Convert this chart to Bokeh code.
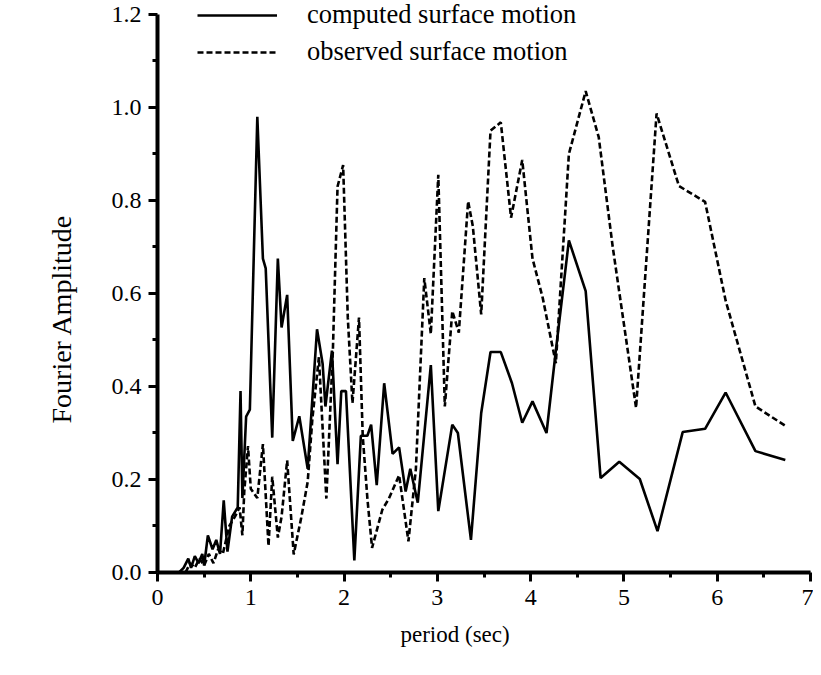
from bokeh.plotting import figure
from bokeh.models import Range1d, FixedTicker, PrintfTickFormatter, Legend, LegendItem, Title, Span
from bokeh.embed import file_html
from bokeh.resources import INLINE

# computed surface motion (solid)
computed_period = [0.23, 0.28, 0.33, 0.36, 0.40, 0.44, 0.48, 0.50, 0.54, 0.59, 0.63, 0.67,
                   0.71, 0.75, 0.80, 0.86, 0.89, 0.91, 0.95, 0.99, 1.07, 1.13, 1.16, 1.23,
                   1.29, 1.33, 1.39, 1.45, 1.52, 1.61, 1.71, 1.77, 1.80, 1.87, 1.93, 1.97,
                   2.02, 2.11, 2.18, 2.25, 2.29, 2.35, 2.43, 2.52, 2.59, 2.66, 2.71, 2.79,
                   2.93, 3.01, 3.16, 3.22, 3.36, 3.47, 3.57, 3.68, 3.80, 3.91, 4.02, 4.17,
                   4.27, 4.41, 4.59, 4.75, 4.95, 5.17, 5.36, 5.63, 5.87, 6.09, 6.41, 6.73]
computed_amp = [0.00, 0.01, 0.03, 0.01, 0.035, 0.02, 0.04, 0.015, 0.08, 0.05, 0.07, 0.04,
                0.155, 0.045, 0.12, 0.14, 0.39, 0.16, 0.335, 0.35, 0.98, 0.675, 0.654, 0.29,
                0.675, 0.527, 0.597, 0.283, 0.336, 0.223, 0.523, 0.449, 0.357, 0.477, 0.233, 0.39,
                0.39, 0.026, 0.294, 0.294, 0.318, 0.188, 0.407, 0.255, 0.269, 0.174, 0.223, 0.15,
                0.446, 0.132, 0.318, 0.30, 0.07, 0.343, 0.474, 0.474, 0.407, 0.322, 0.368, 0.30,
                0.477, 0.714, 0.605, 0.203, 0.238, 0.201, 0.089, 0.302, 0.309, 0.387, 0.261, 0.242]

# observed surface motion (dashed)
observed_period = [0.30, 0.35, 0.40, 0.45, 0.50, 0.55, 0.60, 0.65, 0.70, 0.77, 0.83, 0.88,
                   0.91, 0.93, 0.97, 1.00, 1.07, 1.13, 1.19, 1.23, 1.29, 1.33, 1.39, 1.46,
                   1.54, 1.61, 1.66, 1.73, 1.81, 1.88, 1.93, 1.99, 2.04, 2.09, 2.16, 2.20,
                   2.25, 2.30, 2.41, 2.48, 2.59, 2.69, 2.77, 2.86, 2.93, 3.01, 3.08, 3.16,
                   3.23, 3.33, 3.38, 3.47, 3.57, 3.68, 3.79, 3.91, 4.02, 4.13, 4.27, 4.41,
                   4.59, 4.73, 4.88, 5.13, 5.35, 5.59, 5.87, 6.09, 6.41, 6.75]
observed_amp = [0.00, 0.02, 0.01, 0.03, 0.015, 0.04, 0.02, 0.05, 0.04, 0.10, 0.12, 0.14,
                0.08, 0.174, 0.272, 0.18, 0.16, 0.276, 0.057, 0.206, 0.075, 0.12, 0.241, 0.039,
                0.117, 0.195, 0.33, 0.463, 0.159, 0.477, 0.83, 0.876, 0.548, 0.364, 0.548, 0.294,
                0.159, 0.053, 0.135, 0.159, 0.209, 0.067, 0.223, 0.633, 0.513, 0.855, 0.357, 0.562,
                0.516, 0.798, 0.745, 0.555, 0.95, 0.968, 0.763, 0.887, 0.675, 0.59, 0.45, 0.90,
                1.035, 0.936, 0.70, 0.354, 0.987, 0.831, 0.797, 0.585, 0.357, 0.313]

x_ticks = [0, 1, 2, 3, 4, 5, 6, 7]
x_minor = [0.5, 1.5, 2.5, 3.5, 4.5, 5.5, 6.5]
y_ticks = [0.0, 0.2, 0.4, 0.6, 0.8, 1.0, 1.2]
y_minor = [0.1, 0.3, 0.5, 0.7, 0.9, 1.1]

FONT = "Liberation Serif"

p = figure(width=813, height=667, output_backend="svg", toolbar_location=None,
           x_range=Range1d(0, 7), y_range=Range1d(0, 1.23),
           min_border_left=157, min_border_right=3, min_border_top=0, min_border_bottom=95)
p.outline_line_color = None
p.xgrid.visible = False
p.ygrid.visible = False
p.background_fill_color = "white"
p.border_fill_color = "white"

r1 = p.line(computed_period, computed_amp, line_color="black", line_width=2.6)
r2 = p.line(observed_period, observed_amp, line_color="black", line_width=2.6, line_dash="6 3")

# heavy baseline along the x axis (y = 0)
p.add_layout(Span(location=0, dimension="width", line_color="black", line_width=3))

p.yaxis.bounds = (0, 1.2)
for ax in p.xaxis + p.yaxis:
    ax.axis_line_width = 4
    ax.axis_line_color = "black"
    ax.major_tick_line_width = 3
    ax.major_tick_line_color = "black"
    ax.minor_tick_line_width = 3
    ax.minor_tick_line_color = "black"
    ax.major_tick_out = 9
    ax.major_tick_in = 0
    ax.minor_tick_out = 5
    ax.minor_tick_in = 0
    ax.major_label_text_font = FONT
    ax.major_label_text_font_size = "24px"
    ax.major_label_text_color = "black"

p.xaxis.ticker = FixedTicker(ticks=x_ticks, minor_ticks=x_minor)
p.yaxis.ticker = FixedTicker(ticks=y_ticks, minor_ticks=y_minor)
p.xaxis.formatter = PrintfTickFormatter(format="%d")
p.yaxis.formatter = PrintfTickFormatter(format="%.1f")
p.xaxis.major_label_standoff = 8
p.yaxis.major_label_standoff = 7

# axis titles as side titles (left-aligned with an offset along the axis)
xtitle = Title(text="period (sec)", align="left", offset=243, standoff=24,
               text_font=FONT, text_font_size="23px", text_font_style="normal",
               text_color="black")
ytitle = Title(text="Fourier Amplitude", align="left", offset=149, standoff=63,
               text_font=FONT, text_font_size="28px", text_font_style="normal",
               text_color="black")
p.add_layout(xtitle, "below")
p.add_layout(ytitle, "left")

legend = Legend(items=[LegendItem(label="computed surface motion", renderers=[r1]),
                       LegendItem(label="observed surface motion", renderers=[r2])],
                location=(40, 505), orientation="vertical",
                border_line_color=None, background_fill_alpha=0,
                padding=0, margin=0, spacing=6,
                glyph_width=80, glyph_height=30, label_height=30,
                label_standoff=30, label_text_font=FONT,
                label_text_font_size="26.5px", label_text_color="black")
p.add_layout(legend, "center")

open("out.html", "w").write(file_html(p, INLINE))
